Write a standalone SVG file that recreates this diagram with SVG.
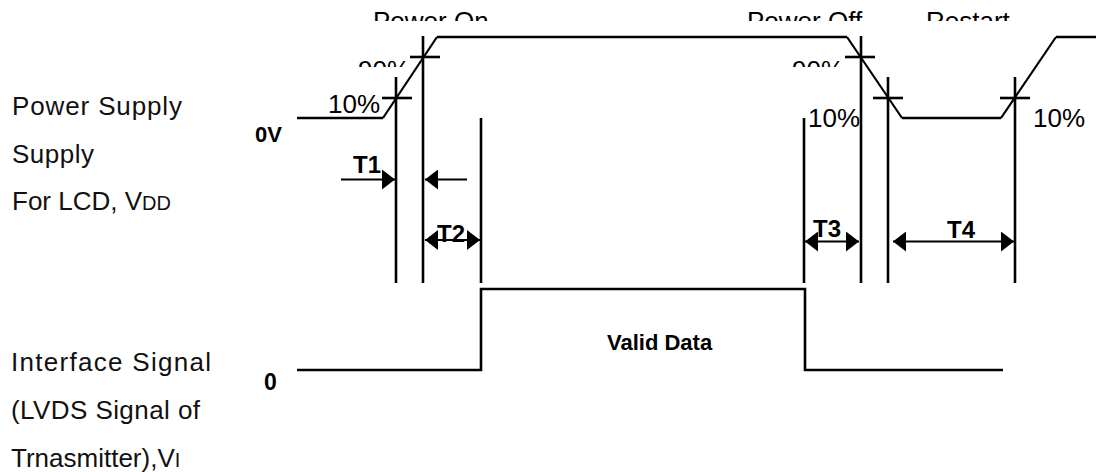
<svg xmlns="http://www.w3.org/2000/svg" width="1096" height="472" viewBox="0 0 1096 472">
<style>
.lbl{font-family:"Liberation Sans",Arial,sans-serif;font-size:26px;fill:#111}
.pct{font-family:"Liberation Sans",Arial,sans-serif;font-size:26px;fill:#000}
.bld{font-family:"Liberation Sans",Arial,sans-serif;font-weight:bold;fill:#000}
.wave{fill:none;stroke:#000;stroke-width:2.6}
.ramp{fill:none;stroke:#000;stroke-width:2.2}
.vl{stroke:#000;stroke-width:2.6}
.tick{stroke:#000;stroke-width:2.6}
.dim{stroke:#000;stroke-width:2}
</style>
<defs>
<marker id="ah" viewBox="0 0 13 20" refX="13" refY="10" markerWidth="13" markerHeight="20" markerUnits="userSpaceOnUse" orient="auto-start-reverse">
<path d="M0,0 L13,10 L0,20 Z" fill="#000"/>
</marker>
<clipPath id="clipTop"><rect x="0" y="0" width="1096" height="21"/></clipPath>
<clipPath id="clip90"><rect x="0" y="0" width="1096" height="67"/></clipPath>
</defs>
<rect width="1096" height="472" fill="#fff"/>

<g id="labels-left">
<text class="lbl" x="12" y="114.5" textLength="170" lengthAdjust="spacing">Power Supply</text>
<text class="lbl" x="12" y="162.5" textLength="82" lengthAdjust="spacing">Supply</text>
<text class="lbl" x="12" y="210">For LCD, V<tspan font-size="20">DD</tspan></text>
<text class="lbl" x="11" y="370.5" textLength="200" lengthAdjust="spacing">Interface Signal</text>
<text class="lbl" x="11" y="418.5" textLength="189" lengthAdjust="spacing">(LVDS Signal of</text>
<text class="lbl" x="11" y="466.5">Trnasmitter),V<tspan font-size="20">I</tspan></text>
</g>

<g id="headers" clip-path="url(#clipTop)">
<text class="pct" x="373" y="30">Power On</text>
<text class="pct" x="747" y="30">Power Off</text>
<text class="pct" x="926" y="30">Restart</text>
</g>

<g id="power-waveform">
<path class="wave" d="M297,118 H383 M437,37 H847 M902,118 H1001 M1056,37 H1096"/>
<path class="ramp" d="M383,118 L437,37 M847,37 L902,118 M1001,118 L1056,37"/>
<text class="bld" x="255" y="142" font-size="22">0V</text>
<g clip-path="url(#clip90)">
<text class="pct" x="358" y="78.6">90%</text>
<text class="pct" x="792" y="78.6">90%</text>
</g>
<text class="pct" x="328" y="113">10%</text>
<text class="pct" x="808" y="127">10%</text>
<text class="pct" x="1033" y="127">10%</text>
<line class="tick" x1="410" y1="57" x2="440" y2="57"/>
<line class="tick" x1="382" y1="98" x2="412" y2="98"/>
<line class="tick" x1="845" y1="57" x2="875" y2="57"/>
<line class="tick" x1="873" y1="98" x2="903" y2="98"/>
<line class="tick" x1="1000" y1="98" x2="1030" y2="98"/>
</g>

<g id="interface-waveform">
<path class="wave" stroke-width="3" d="M297,370 H481 V289 H805 V370 H1003"/>
<text class="bld" x="264" y="390" font-size="23">0</text>
<text class="bld" x="607" y="350" font-size="22">Valid Data</text>
</g>

<g id="timing-lines">
<line class="vl" x1="396" y1="77" x2="396" y2="283"/>
<line class="vl" x1="423" y1="36" x2="423" y2="283"/>
<line class="vl" x1="481" y1="118" x2="481" y2="283"/>
<line class="vl" x1="804" y1="118" x2="804" y2="283"/>
<line class="vl" x1="861" y1="36" x2="861" y2="283"/>
<line class="vl" x1="888" y1="77" x2="888" y2="283"/>
<line class="vl" x1="1015" y1="77" x2="1015" y2="283"/>
</g>

<g id="connectors">
<line class="dim" x1="341" y1="179.5" x2="395" y2="179.5" marker-end="url(#ah)"/>
<line class="dim" x1="467" y1="179.5" x2="425" y2="179.5" marker-end="url(#ah)"/>
<line class="dim" x1="425" y1="240" x2="480" y2="240" marker-start="url(#ah)" marker-end="url(#ah)"/>
<line class="dim" x1="805" y1="241.5" x2="859" y2="241.5" marker-start="url(#ah)" marker-end="url(#ah)"/>
<line class="dim" x1="893" y1="241.5" x2="1014" y2="241.5" marker-start="url(#ah)" marker-end="url(#ah)"/>
</g>

<g id="time-labels">
<text class="bld" x="353" y="173" font-size="24">T1</text>
<text class="bld" x="437" y="242" font-size="24">T2</text>
<text class="bld" x="813" y="237" font-size="24">T3</text>
<text class="bld" x="947" y="238" font-size="24">T4</text>
</g>
</svg>
